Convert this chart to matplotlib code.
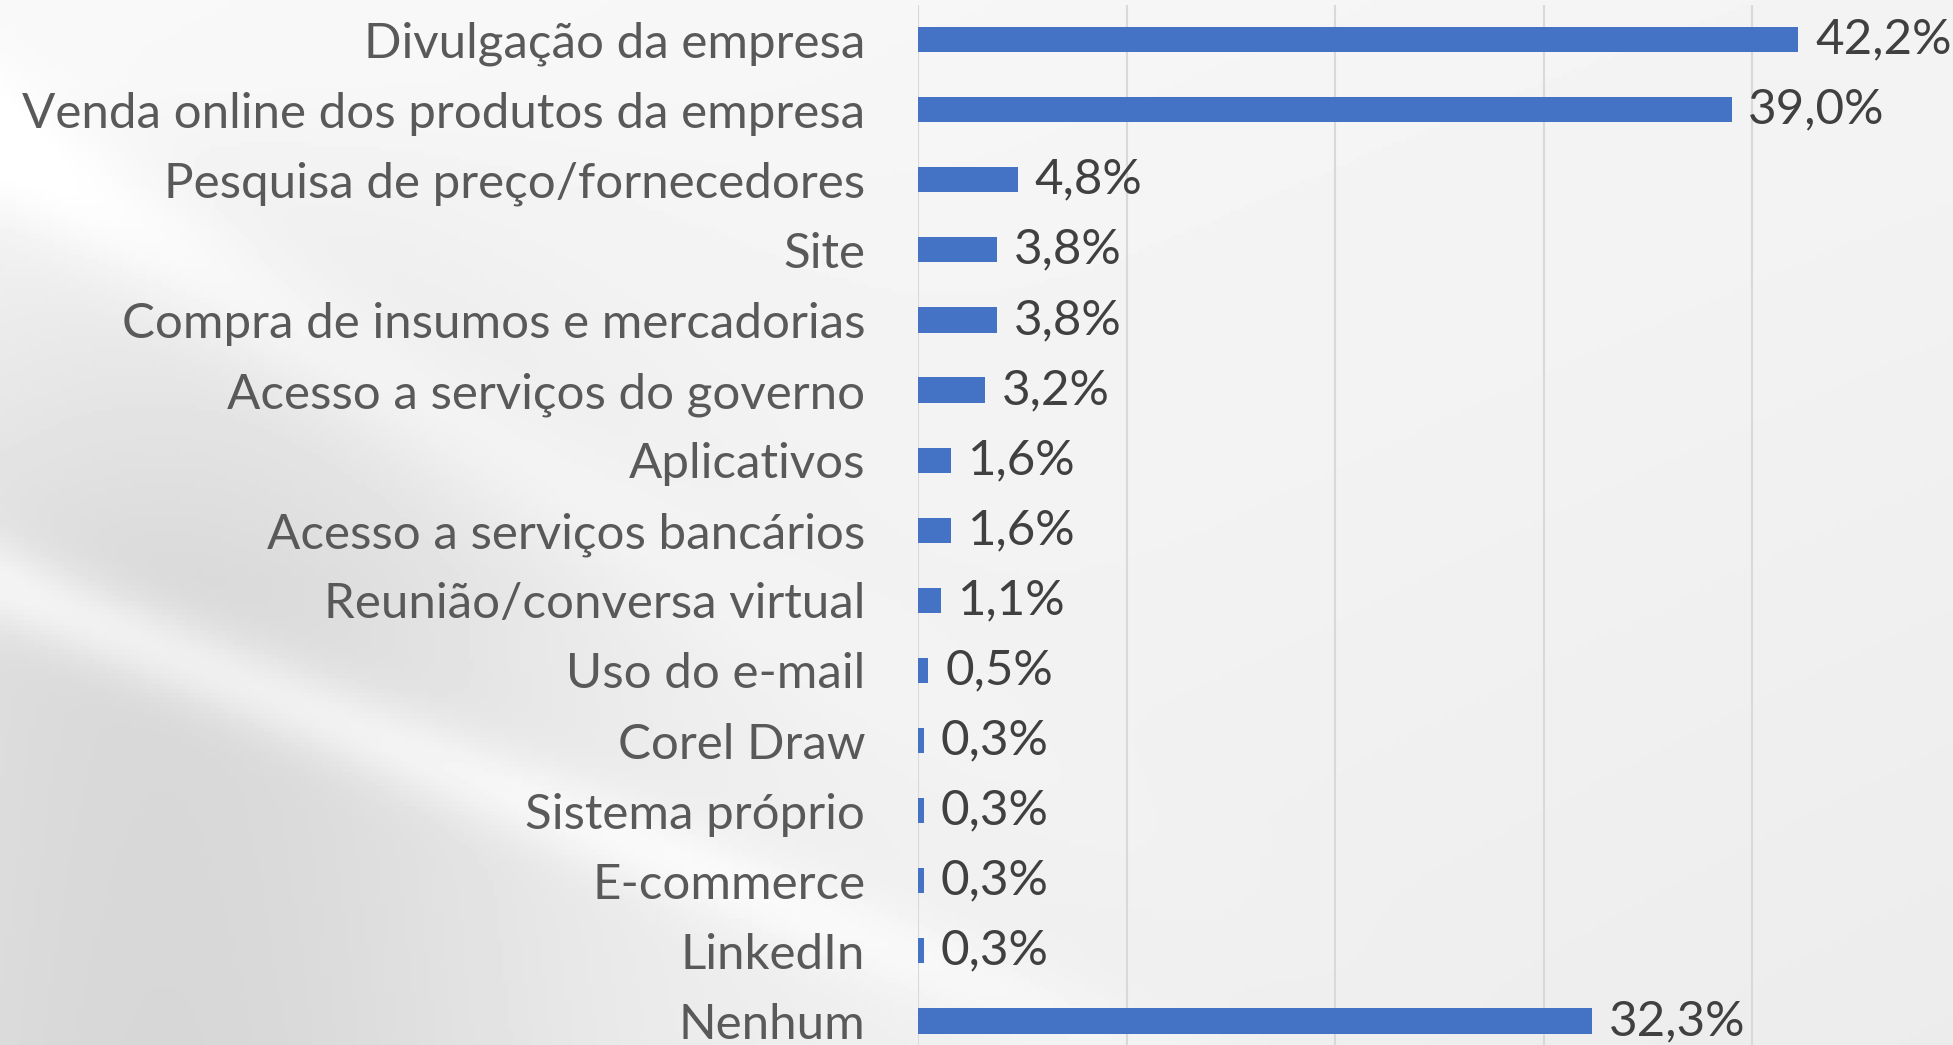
import numpy as np
import matplotlib
matplotlib.use("Agg")
import matplotlib.pyplot as plt

categorias = ["Divulgação da empresa",
              "Venda online dos produtos da empresa",
              "Pesquisa de preço/fornecedores",
              "Site",
              "Compra de insumos e mercadorias",
              "Acesso a serviços do governo",
              "Aplicativos",
              "Acesso a serviços bancários",
              "Reunião/conversa virtual",
              "Uso do e-mail",
              "Corel Draw",
              "Sistema próprio",
              "E-commerce",
              "LinkedIn",
              "Nenhum"]
valores = [42.2, 39.0, 4.8, 3.8, 3.8, 3.2, 1.6, 1.6, 1.1, 0.5, 0.3, 0.3, 0.3, 0.3, 32.3]
rotulos = [f"{v:.1f}%".replace(".", ",") for v in valores]

plt.rcParams['font.family'] = ['Lato', 'DejaVu Sans']

W, H = 1953, 1045
fig = plt.figure(figsize=(W / 100, H / 100), dpi=100)

# background: light grey with a darker area on the left and a diagonal white streak
bg = fig.add_axes([0, 0, 1, 1])
u, v = np.meshgrid(np.linspace(0, 1, 400), np.linspace(0, 1, 214))
fx, fy = u * W, v * H
img = 0.955 + 0.02 * (1 - u) * (1 - v) - 0.03 * v * u
dark = np.exp(-((fx - 150) / 420) ** 2) * np.clip((fy - 80) / 500, 0, 1)
img -= 0.11 * dark
band = 0.41 * fx + 585 - fy
img += 0.09 * np.exp(-(band / 45) ** 2) * np.exp(-(fx / 900) ** 2)
upper = 0.6 * fx + 150 - fy
img += 0.05 * np.exp(-(upper / 70) ** 2) * np.exp(-(fx / 700) ** 2)
img = np.clip(img, 0, 1)
bg.imshow(img, cmap="gray", vmin=0, vmax=1, aspect="auto", extent=[0, 1, 0, 1])
bg.axis("off")

left = 918 / W
right = 1961 / W
top = 1 - 4.5 / H
bottom = 1 - 1056 / H
ax = fig.add_axes([left, bottom, right - left, top - bottom])
ax.patch.set_alpha(0)

y = np.arange(len(categorias))
ax.barh(y, valores, height=0.36, color="#4472C4", zorder=3)
ax.set_ylim(len(categorias) - 0.5, -0.5)
ax.set_xlim(0, 50)
ax.set_xticks([0, 10, 20, 30, 40])
ax.xaxis.grid(True, color="#d9d9d9", linewidth=1.5, zorder=0)
ax.tick_params(axis="x", bottom=False, labelbottom=False)
ax.tick_params(axis="y", length=0, pad=38, labelsize=35.5, labelcolor="#595959")
ax.set_yticks(y)
ax.set_yticklabels(categorias)
for s in ax.spines.values():
    s.set_visible(False)

for yi, v, r in zip(y, valores, rotulos):
    ax.text(v + 0.8, yi, r, va="center", ha="left", fontsize=35.5, color="#404040")

fig.savefig("out.png", dpi=100)
